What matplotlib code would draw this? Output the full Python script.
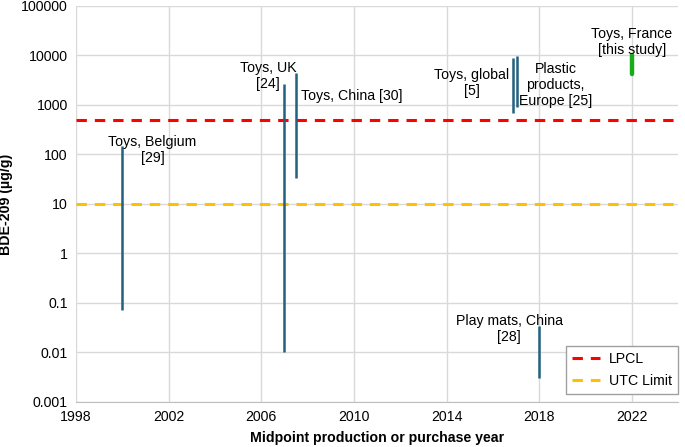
import matplotlib
matplotlib.use("Agg")
import matplotlib.pyplot as plt

plt.rcParams['font.family'] = ['Liberation Sans', 'DejaVu Sans']

# Data
labels = ["Toys, Belgium\n[29]", "Toys, UK\n[24]", "Toys, China [30]", "Toys, global\n[5]",
          "Plastic\nproducts,\nEurope [25]", "Play mats, China\n[28]", "Toys, France\n[this study]"]
years = [2000.0, 2007.0, 2007.5, 2016.85, 2017.05, 2018.0, 2022.0]
low = [0.072, 0.01, 34, 700, 900, 0.003, 4300]
high = [148, 2650, 4450, 8900, 9800, 0.035, 10000]
lpcl = 500
utc = 10
xticks = [1998, 2002, 2006, 2010, 2014, 2018, 2022]
yticks = [0.001, 0.01, 0.1, 1, 10, 100, 1000, 10000, 100000]
ytick_labels = ["0.001", "0.01", "0.1", "1", "10", "100", "1000", "10000", "100000"]

FS = 10.2

fig = plt.figure(figsize=(6.85, 4.47), dpi=100)
ax = fig.add_axes([0.111, 0.1007, 0.879, 0.886])
ax.set_yscale('log')
ax.set_xlim(1998, 2024)
ax.set_ylim(0.001, 100000)

ax.grid(True, color='#d9d9d9', linewidth=1)
ax.set_axisbelow(True)
for s in ['top', 'right', 'left']:
    ax.spines[s].set_visible(False)
ax.spines['bottom'].set_color('#bfbfbf')
ax.tick_params(length=0, labelsize=FS, pad=6)
ax.set_xticks(xticks)
ax.set_yticks(yticks)
ax.set_yticklabels(ytick_labels)
ax.minorticks_off()

ax.axhline(lpcl, color='#ff0000', linestyle=(0, (3.4, 2.6)), linewidth=2.2, label='LPCL', zorder=2)
ax.axhline(utc, color='#ffc000', linestyle=(0, (3.4, 2.6)), linewidth=2.2, label='UTC Limit', zorder=2)

for i, (x, lo, hi) in enumerate(zip(years, low, high)):
    if i == len(years) - 1:
        ax.plot([x, x], [lo, hi], color='#1aab1a', linewidth=3.2, solid_capstyle='round', zorder=3)
    else:
        ax.plot([x, x], [lo, hi], color='#22617f', linewidth=1.8, solid_capstyle='butt', zorder=3)

# text positions (data coords)
text_pos = [(2001.3, 250, 'center', 'top'),
            (2006.3, 7800, 'center', 'top'),
            (2007.7, 1550, 'left', 'center'),
            (2015.1, 5600, 'center', 'top'),
            (2018.7, 7400, 'center', 'top'),
            (2016.7, 0.06, 'center', 'top'),
            (2022.0, 38000, 'center', 'top')]
for lab, (tx, ty, ha, va) in zip(labels, text_pos):
    ax.text(tx, ty, lab, ha=ha, va=va, fontsize=FS, linespacing=1.2, zorder=4)

ax.set_xlabel('Midpoint production or purchase year', fontsize=FS, fontweight='bold', labelpad=5)
ax.set_ylabel('BDE-209 (µg/g)', fontsize=FS, fontweight='bold', labelpad=6)

leg = ax.legend(loc='lower right', bbox_to_anchor=(1.0, 0.02), fontsize=FS, frameon=True,
                fancybox=False, edgecolor='#a0a0a0', framealpha=1, borderaxespad=0,
                handlelength=2.0, handletextpad=0.6, borderpad=0.45, labelspacing=0.55)
leg.get_frame().set_linewidth(1)

fig.savefig('out.png', dpi=100)
